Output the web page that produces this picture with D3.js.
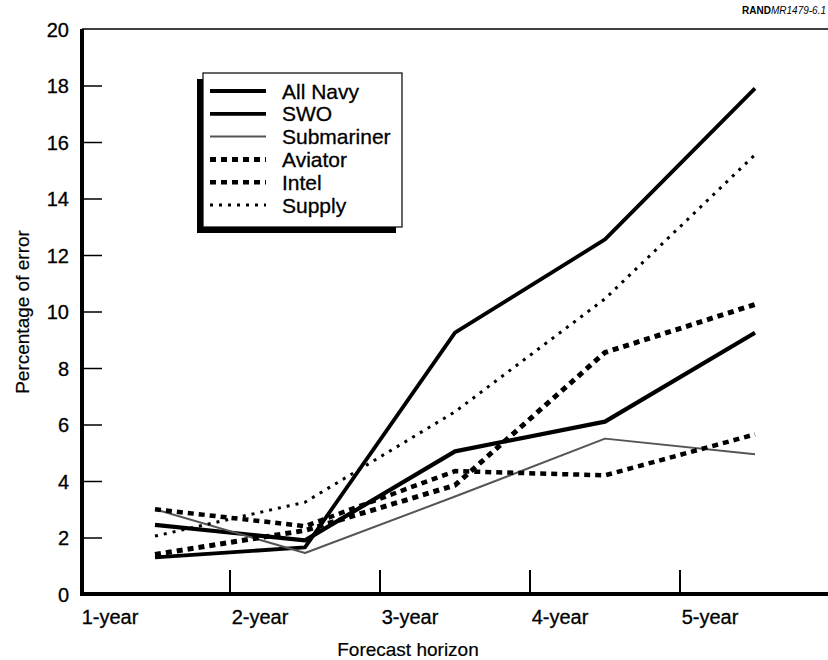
<!DOCTYPE html>
<meta charset="utf-8">
<style>
    body { margin: 0; background: #fff; }
    svg { font-family: "Liberation Sans", Arial, sans-serif; }
    .axis text { font-size: 20px; fill: #000; stroke: #000; stroke-width: 0.3; }
    .lbl { font-size: 20px; fill: #000; stroke: #000; stroke-width: 0.3; }
    .title { font-size: 19px; fill: #000; stroke: #000; stroke-width: 0.2; }
</style>
<svg id="chart" width="828" height="660"></svg>
<script src="https://cdn.jsdelivr.net/npm/d3@7"></script>
<script>
    // values, percentage of error by forecast horizon
    const horizons = ["1-year", "2-year", "3-year", "4-year", "5-year"];
    const allNavy    = [2.45, 1.9, 5.05, 6.1, 9.25];
    const swo        = [1.3, 1.65, 9.25, 12.55, 17.9];
    const submariner = [3.0, 1.45, 3.45, 5.5, 4.95];
    const aviator    = [1.4, 2.25, 3.85, 8.55, 10.25];
    const intel      = [3.0, 2.4, 4.35, 4.2, 5.65];
    const supply     = [2.05, 3.25, 6.45, 10.45, 15.55];
    const yTicks = [0, 2, 4, 6, 8, 10, 12, 14, 16, 18, 20];

    const series = [
        {name: "All Navy", values: allNavy, color: "#000", width: 4.2, dash: null},
        {name: "SWO", values: swo, color: "#000", width: 3.8, dash: null},
        {name: "Submariner", values: submariner, color: "#555", width: 2, dash: null},
        {name: "Aviator", values: aviator, color: "#000", width: 5, dash: "6,5"},
        {name: "Intel", values: intel, color: "#000", width: 4.5, dash: "6,5"},
        {name: "Supply", values: supply, color: "#000", width: 3, dash: "3,6"}
    ];

    const svg = d3.select("#chart");

    const x = d3.scaleBand().domain(horizons).range([80, 830]).padding(0);
    const y = d3.scaleLinear().domain([0, 20]).range([594, 29]);
    const cx = d => x(d) + x.bandwidth() / 2;

    // y axis with inward ticks
    const yAxis = svg.append("g")
        .attr("class", "axis")
        .attr("transform", "translate(82,0)")
        .call(d3.axisLeft(y).tickValues(yTicks).tickSize(-20).tickPadding(13).tickFormat(d3.format("d")));
    yAxis.select(".domain").remove();
    yAxis.selectAll(".tick line").attr("stroke", "#000").attr("stroke-width", 1.5);
    yAxis.selectAll(".tick text").attr("dy", "0.36em");
    yAxis.selectAll(".tick").filter(d => d === 0 || d === 20).select("line").remove();

    // frame: top line, left and bottom axes
    svg.append("line").attr("x1", 82).attr("x2", 828).attr("y1", y(20)).attr("y2", y(20))
        .attr("stroke", "#000").attr("stroke-width", 1.5);
    svg.append("line").attr("x1", 82).attr("x2", 82).attr("y1", y(20)).attr("y2", y(0) + 2)
        .attr("stroke", "#000").attr("stroke-width", 4);
    svg.append("line").attr("x1", 80).attr("x2", 828).attr("y1", y(0)).attr("y2", y(0))
        .attr("stroke", "#000").attr("stroke-width", 4);

    // x ticks sit between categories
    svg.selectAll(".xtick")
        .data(horizons.slice(1))
        .join("line")
        .attr("class", "xtick")
        .attr("x1", d => x(d)).attr("x2", d => x(d))
        .attr("y1", y(0)).attr("y2", y(0) - 24)
        .attr("stroke", "#000").attr("stroke-width", 2);

    svg.selectAll(".xlabel")
        .data(horizons)
        .join("text")
        .attr("class", "lbl xlabel")
        .attr("x", d => cx(d) - 45)
        .attr("y", 624)
        .attr("text-anchor", "middle")
        .text(d => d);

    svg.append("text").attr("class", "title")
        .attr("x", 408).attr("y", 656).attr("text-anchor", "middle")
        .text("Forecast horizon");

    svg.append("text").attr("class", "title")
        .attr("transform", "translate(29,312) rotate(-90)")
        .attr("text-anchor", "middle")
        .text("Percentage of error");

    const tag = svg.append("text").attr("x", 826).attr("y", 14)
        .attr("text-anchor", "end").style("font-size", "10px");
    tag.append("tspan").style("font-weight", "bold").text("RAND");
    tag.append("tspan").style("font-style", "italic").text("MR1479-6.1");

    // lines
    const line = d3.line()
        .x((d, i) => cx(horizons[i]))
        .y(d => y(d));

    svg.selectAll(".series")
        .data(series)
        .join("path")
        .attr("class", "series")
        .attr("fill", "none")
        .attr("stroke", d => d.color)
        .attr("stroke-width", d => d.width)
        .attr("stroke-dasharray", d => d.dash)
        .attr("stroke-linejoin", "round")
        .attr("d", d => line(d.values));

    // legend box with offset shadow
    const lg = svg.append("g");
    lg.append("rect").attr("x", 197).attr("y", 79).attr("width", 199).attr("height", 154).attr("fill", "#000");
    lg.append("rect").attr("x", 203).attr("y", 73).attr("width", 199).attr("height", 154)
        .attr("fill", "#fff").attr("stroke", "#000").attr("stroke-width", 1.2);

    const rows = lg.selectAll(".row")
        .data(series)
        .join("g")
        .attr("transform", (d, i) => `translate(0,${91 + i * 22.8})`);
    rows.append("line")
        .attr("x1", 210).attr("x2", 266).attr("y1", 0).attr("y2", 0)
        .attr("stroke", d => d.color)
        .attr("stroke-width", d => d.width)
        .attr("stroke-dasharray", d => d.dash);
    rows.append("text").attr("class", "lbl")
        .attr("x", 282).attr("y", 7.5)
        .style("font-size", "21px")
        .text(d => d.name);
</script>
